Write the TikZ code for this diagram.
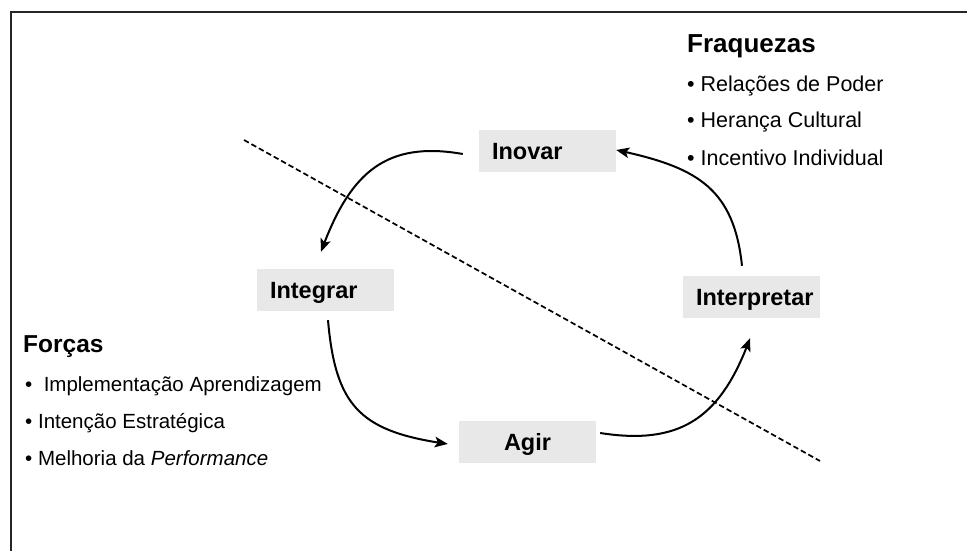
\documentclass[tikz,border=0pt]{standalone}
\usepackage{fontspec}
\setmainfont{Liberation Sans}
\usepackage{tikz}
\usetikzlibrary{arrows.meta,bending}
\tikzset{%
  etapa/.style={fill=black!9, minimum width=137pt, minimum height=42pt,
    inner xsep=13pt, inner ysep=0pt, text width=111pt, align=left,
    text height=17pt, text depth=0pt,
    font=\fontsize{23.5}{28}\selectfont\bfseries},
  ciclo/.style={line width=2pt, -{Stealth[length=13pt,width=10.5pt,inset=3pt]}},
  titulo/.style={anchor=base west, inner sep=0pt, font=\fontsize{25}{30}\selectfont\bfseries},
  topico/.style={anchor=base west, inner sep=0pt, font=\fontsize{20.5}{24}\selectfont},
}

\begin{document}
\begin{tikzpicture}[x=1pt,y=1pt]
      \useasboundingbox (0,0) rectangle (967,551);
      \coordinate (O) at (0,0);
      \coordinate (A) at (244,411);
      \coordinate (B) at (820,90);

      % moldura
      \draw [line width=1.5pt, black!85] (11,0) -- (11,539) -- (967,539);
      \draw [line width=1.7pt, dash pattern=on 5.5pt off 3pt] (A) -- (B);

      \node [etapa] (inovar) at (547.5,400) {Inovar};
      \node [etapa] (integrar) at (325.5,261) {Integrar};
      \node [etapa] (interpretar) at (751.5,254) {Interpretar};
      \node [etapa, align=center] (agir) at (527.5,108.5) {Agir};

      \draw [ciclo] ([shift={(-16pt,-3pt)}]inovar.west) to [out=170,in=70,looseness=1.2] ([shift={(-4.5pt,17pt)}]integrar.north);
      \draw [ciclo] ([shift={(2.5pt,-9pt)}]integrar.south) to [out=-85,in=172,looseness=1.3] ([shift={(-11pt,-1.5pt)}]agir.west);
      \draw [ciclo] ([shift={(4pt,9.5pt)}]agir.east) to [out=-9,in=250,looseness=1.2] ([shift={(-1.5pt,-20pt)}]interpretar.south);
      \draw [ciclo] ([shift={(-9.5pt,10pt)}]interpretar.north) to [out=96,in=-12,looseness=1.2] ([yshift=1pt]inovar.east);

      \node [titulo, font=\fontsize{26}{30}\selectfont\bfseries] (fraquezas) at (687,498) {Fraquezas};
      \foreach \y / \texto [count=\i] in
      {
        459/{• Relações de Poder},
        423/{• Herança Cultural},
        385/{• Incentivo Individual}
      }
      {
       \node [topico, font=\fontsize{21.5}{24}\selectfont] (fraq\i) at (687,\y) {\texto};
      }

      \node [titulo, font=\fontsize{24.5}{30}\selectfont\bfseries] (forcas) at (23,198) {Forças};
      \foreach \y / \texto [count=\i] in
      {
        159/{•\ \ Implementação Aprendizagem},
        122/{• Intenção Estratégica},
        85/{• Melhoria da \textit{Performance}}
      }
      {
       \node [topico] (forca\i) at (25,\y) {\texto};
      }

\end{tikzpicture}
\end{document}
